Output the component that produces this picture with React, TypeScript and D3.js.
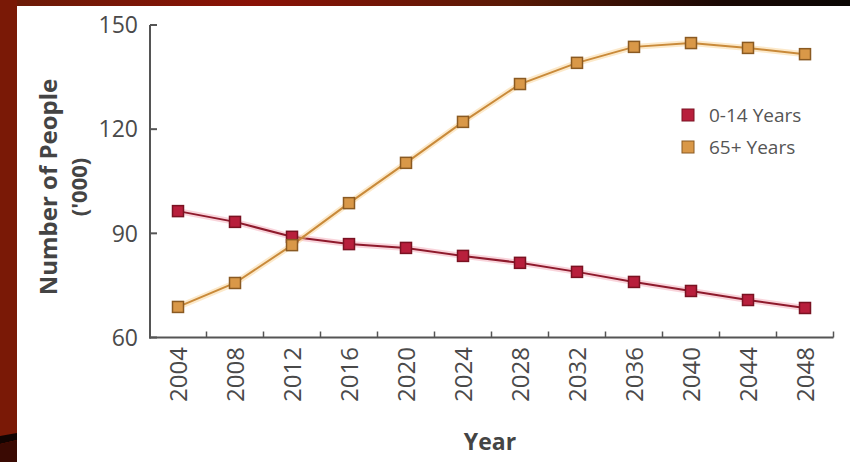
import React from "react";
import * as d3 from "d3";

const years = [2004, 2008, 2012, 2016, 2020, 2024, 2028, 2032, 2036, 2040, 2044, 2048];
const children = [96.4, 93.3, 89.0, 86.9, 85.8, 83.5, 81.5, 78.9, 76.0, 73.4, 70.8, 68.5];
const elderly = [68.8, 75.7, 86.6, 98.7, 110.3, 122.1, 133.0, 139.1, 143.7, 144.8, 143.4, 141.6];
const yTicks = [60, 90, 120, 150];
const seriesNames = ["0-14 Years", "65+ Years"];

const W = 850;
const H = 462;

export default function App() {
  const x = d3.scaleBand<number>().domain(years).range([149.5, 833.5]).padding(0);
  const y = d3.scaleLinear().domain([60, 150]).range([337.5, 25]);
  const cx = (yr: number) => (x(yr) as number) + x.bandwidth() / 2;
  const line = d3
    .line<number>()
    .x((_, i) => cx(years[i]))
    .y((v) => y(v));

  const series = [
    { name: seriesNames[0], vals: children, line: "#8e1a2c", glow: "#f2a0b0", fill: "#b81f3c", stroke: "#7a1222" },
    { name: seriesNames[1], vals: elderly, line: "#c98a3a", glow: "#f8cf8a", fill: "#d99848", stroke: "#8a5a22" },
  ];
  const bounds = years.map((yr) => x(yr) as number).concat([(x(years[years.length - 1]) as number) + x.bandwidth()]);
  const font = "'Open Sans', 'DejaVu Sans', sans-serif";
  const ms = 11;

  return (
    <svg width={W} height={H} style={{ position: "absolute", left: 0, top: 0 }} fontFamily={font}>
      <defs>
        <linearGradient id="topg" x1="0" x2="1" y1="0" y2="0">
          <stop offset="0" stopColor="#6a1c08" />
          <stop offset="0.3" stopColor="#8a1206" />
          <stop offset="0.6" stopColor="#5a1a06" />
          <stop offset="0.85" stopColor="#1a0804" />
          <stop offset="1" stopColor="#0a0604" />
        </linearGradient>
      </defs>
      <rect x={0} y={0} width={W} height={H} fill="url(#topg)" />
      <rect x={0} y={0} width={17} height={H} fill="#7a1906" />
      <path d="M0,436 L17,433 L17,440 L0,444 Z" fill="#120402" />
      <path d="M0,444 L17,440 L17,462 L0,462 Z" fill="#3a0a03" />
      <rect x={17} y={6} width={W - 17} height={H - 6} fill="#ffffff" />

      {/* axes */}
      <line x1={150} x2={150} y1={y(150)} y2={y(60) + 1} stroke="#555" strokeWidth={2} />
      <line x1={149} x2={bounds[bounds.length - 1]} y1={y(60)} y2={y(60)} stroke="#555" strokeWidth={2} />
      {yTicks.map((t) => (
        <g key={t}>
          <line x1={150} x2={157} y1={y(t)} y2={y(t)} stroke="#555" strokeWidth={2} />
          <text x={138} y={y(t)} dy="0.36em" textAnchor="end" fontSize={23} fill="#4a4a4a">
            {t}
          </text>
        </g>
      ))}
      {bounds.slice(1).map((b, i) => (
        <line key={i} x1={b} x2={b} y1={y(60)} y2={y(60) - 6} stroke="#555" strokeWidth={1.5} />
      ))}
      {years.map((yr) => (
        <text
          key={yr}
          transform={`translate(${cx(yr)},347) rotate(-90)`}
          dy="0.36em"
          textAnchor="end"
          fontSize={24}
          fill="#4a4a4a"
        >
          {yr}
        </text>
      ))}

      <text transform="translate(48,187) rotate(-90)" dy="0.36em" textAnchor="middle" fontSize={24} fontWeight={700} fill="#444">
        Number of People
      </text>
      <text transform="translate(79,187) rotate(-90)" dy="0.36em" textAnchor="middle" fontSize={22} fontWeight={700} fill="#444">
        ('000)
      </text>
      <text x={490} y={450} textAnchor="middle" fontSize={23} fontWeight={700} fill="#444">
        Year
      </text>

      {/* lines */}
      {series.map((s) => (
        <g key={s.name}>
          <path d={line(s.vals) || ""} fill="none" stroke={s.glow} strokeWidth={6} strokeOpacity={0.45} />
          <path d={line(s.vals) || ""} fill="none" stroke={s.line} strokeWidth={2} />
        </g>
      ))}
      {series.map((s) =>
        s.vals.map((v, i) => (
          <rect
            key={s.name + i}
            x={cx(years[i]) - ms / 2}
            y={y(v) - ms / 2}
            width={ms}
            height={ms}
            fill={s.fill}
            stroke={s.stroke}
            strokeWidth={1.5}
          />
        ))
      )}

      {/* legend */}
      {series.map((s, i) => (
        <g key={s.name} transform={`translate(682,${115 + i * 32})`}>
          <rect x={0} y={-6} width={12} height={12} fill={s.fill} stroke={s.stroke} strokeWidth={1} />
          <text x={27} y={0} dy="0.36em" fontSize={19} fill="#555">
            {s.name}
          </text>
        </g>
      ))}
    </svg>
  );
}
